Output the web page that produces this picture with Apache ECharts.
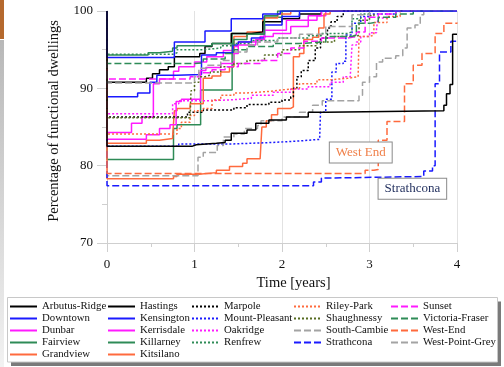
<!DOCTYPE html>
<html><head><meta charset="utf-8">
<script src="https://cdn.jsdelivr.net/npm/echarts@6/dist/echarts.min.js"></script>
<style>html,body{margin:0;padding:0;background:#fff}#c{width:504px;height:367px}</style>
</head><body><div id="c"></div><script>
// ---- data: [time in years, % functional dwellings] step points ----
const arbutusRidge = [[0,100],[0,82.5],[0.97,82.7],[1.02,82.9],[1.25,83.0],[1.35,83.3],[1.42,84.2],[1.6,84.6],[1.7,85.5],[1.85,85.9],[2.05,86.3],[2.3,86.9],[2.5,87.1],[3.85,87.8],[3.88,89.3],[3.92,90.5],[3.95,97.0],[4,97.0]];
const downtown = [[0,100],[0,94.0],[0.77,96.0],[1.12,97.4],[1.42,99.0],[1.78,99.6],[1.98,100],[4,100]];
const dunbar = [[0,100],[0,84.3],[0.28,85.5],[0.4,86.3],[0.53,90.6],[0.6,91.2],[0.76,92.2],[0.82,92.8],[1.0,93.4],[1.14,94.1],[1.33,94.9],[1.45,95.4],[1.5,96.0],[1.75,96.7],[1.9,97.1],[2.1,98.0],[2.3,98.8],[2.4,99.4],[2.5,100],[4,100]];
const fairview = [[0,100],[0,80.8],[0.76,84.8],[0.8,85.3],[1.07,89.8],[1.43,97.1],[1.79,99.2],[2.0,100],[4,100]];
const grandview = [[0,100],[0,82.9],[0.45,83.3],[0.6,83.5],[0.75,83.8],[0.77,87.1],[0.8,87.4],[0.95,88.0],[1.1,91.3],[1.2,91.6],[1.3,92.1],[1.4,92.8],[1.45,96.7],[1.6,97.3],[1.78,99.1],[1.95,99.6],[2.1,100],[4,100]];
const hastings = [[0,100],[0,90.8],[0.45,91.3],[0.52,91.9],[0.6,92.4],[0.7,92.8],[0.77,94.1],[1.06,94.5],[1.12,95.4],[1.2,95.8],[1.42,97.1],[1.65,97.3],[1.78,98.6],[2.0,99.0],[2.2,99.6],[2.45,100],[4,100]];
const kensington = [[0,100],[0,88.9],[0.35,89.4],[0.49,90.8],[0.57,91.7],[0.8,91.8],[1.08,94.3],[1.25,94.6],[1.44,95.6],[1.5,96.0],[1.65,96.5],[1.8,98.2],[2.0,99.3],[2.2,100],[4,100]];
const kerrisdale = [[0,100],[0,83.4],[0.45,84.0],[0.6,84.8],[0.72,85.3],[0.79,88.3],[0.85,88.6],[1.07,92.3],[1.13,92.7],[1.3,93.2],[1.45,94.5],[1.5,95.6],[1.7,96.3],[1.8,97.5],[2.05,98.8],[2.3,99.4],[2.45,100],[4,100]];
const killarney = [[0,100],[0,94.3],[0.47,94.6],[0.6,94.8],[0.75,95.2],[0.8,95.5],[1.2,95.8],[1.45,96.3],[1.6,97.0],[1.8,99.4],[1.95,100],[4,100]];
const kitsilano = [[0,100],[0,78.3],[0.76,78.6],[0.8,78.9],[1.05,79.1],[1.25,79.4],[1.4,79.9],[1.55,80.3],[1.6,80.9],[1.75,81.1],[1.77,85.0],[1.82,85.8],[1.88,86.6],[1.95,87.4],[2.1,87.6],[2.13,94.1],[2.2,94.5],[2.25,96.3],[2.35,96.6],[2.42,97.8],[2.48,99.6],[2.55,100],[4,100]];
const marpole = [[0,100],[0,86.3],[0.92,86.9],[1.1,87.2],[1.45,87.5],[1.6,87.9],[1.85,88.2],[2.0,88.5],[2.1,88.9],[2.13,90.0],[2.17,91.5],[2.22,92.3],[2.3,93.6],[2.38,95.2],[2.44,96.5],[2.52,97.8],[2.56,98.6],[2.63,99.3],[2.7,100],[4,100]];
const mountPleasant = [[0,100],[0,82.5],[0.82,82.8],[1.4,83.0],[1.9,83.2],[2.2,83.4],[2.43,83.5],[2.44,86.9],[2.5,88.6],[2.57,92.1],[2.62,93.2],[2.7,93.5],[2.73,96.9],[2.8,98.4],[2.9,99.3],[3.0,99.6],[3.3,100],[4,100]];
const oakridge = [[0,100],[0,86.7],[0.75,88.0],[0.82,88.4],[1.15,88.5],[1.4,88.7],[1.65,89.1],[1.9,89.5],[2.1,89.9],[2.3,90.2],[2.55,90.8],[2.7,91.5],[2.78,91.7],[2.8,95.6],[2.85,96.0],[2.9,96.7],[3.0,97.2],[3.08,97.8],[3.1,99.1],[3.2,100],[4,100]];
const renfrew = [[0,100],[0,94.4],[0.75,94.6],[0.8,95.0],[1.1,95.2],[1.3,95.5],[1.45,95.8],[1.65,96.2],[1.95,96.5],[2.3,96.8],[2.45,97.1],[2.75,97.3],[2.8,99.0],[2.9,99.6],[3.0,100],[4,100]];
const rileyPark = [[0,100],[0,84.1],[0.8,84.8],[0.85,85.6],[0.95,86.5],[1.0,87.1],[1.1,87.4],[1.2,88.5],[1.3,89.1],[1.45,89.4],[1.6,89.6],[1.85,89.8],[2.0,90.0],[2.2,90.6],[2.4,91.1],[2.55,91.3],[2.75,91.5],[2.87,91.7],[2.88,96.7],[3.0,96.9],[3.05,98.5],[3.2,99.3],[3.35,100],[4,100]];
const shaughnessy = [[0,100],[0,86.2],[0.95,86.3],[0.96,89.7],[1.0,90.8],[1.05,91.5],[1.12,91.7],[1.18,92.1],[1.3,92.8],[1.45,93.2],[1.6,93.6],[1.8,94.3],[2.0,95.0],[2.2,95.5],[2.4,96.0],[2.6,96.7],[2.85,96.9],[2.88,98.8],[3.0,99.4],[3.05,100],[4,100]];
const southCambie = [[0,100],[0,78.7],[1.04,81.1],[1.1,81.7],[1.26,82.6],[1.33,83.7],[1.45,84.1],[1.57,84.8],[1.72,85.2],[1.76,85.8],[2.0,86.3],[2.2,86.9],[2.35,87.8],[2.46,88.4],[2.88,89.1],[2.92,90.8],[3.0,91.5],[3.08,93.4],[3.15,93.9],[3.3,94.2],[3.38,95.2],[3.43,97.8],[3.52,98.2],[3.58,99.5],[3.62,100],[4,100]];
const strathcona = [[0,100],[0,77.4],[2.36,77.9],[2.45,78.4],[2.55,78.6],[3.62,79.3],[3.72,80.0],[3.75,90.6],[3.8,94.7],[3.93,96.1],[4,96.1]];
const sunset = [[0,100],[0,91.2],[0.95,91.5],[1.05,92.0],[1.2,92.4],[1.35,92.8],[1.5,93.2],[1.75,93.6],[1.95,94.5],[2.1,95.2],[2.25,96.1],[2.45,96.5],[2.75,96.7],[2.85,97.3],[2.95,99.2],[3.1,99.6],[3.3,100],[4,100]];
const victoriaFraser = [[0,100],[0,93.2],[1.0,93.3],[1.1,93.8],[1.35,94.5],[1.45,95.0],[1.6,95.4],[1.9,95.8],[2.2,96.0],[2.5,96.7],[2.8,96.9],[2.85,98.4],[3.0,98.6],[3.1,99.2],[3.3,99.6],[3.5,100],[4,100]];
const westEnd = [[0,100],[0,79.0],[2.95,79.4],[3.05,79.5],[3.1,83.3],[3.2,85.7],[3.4,90.6],[3.5,93.0],[3.6,94.5],[3.75,97.1],[3.85,98.4],[4,98.5]];
const westPointGrey = [[0,100],[0,90.7],[1.0,91.5],[1.05,92.6],[1.15,93.0],[1.3,93.6],[1.45,94.7],[1.6,95.6],[1.72,96.0],[1.95,96.5],[2.2,97.0],[2.5,98.0],[2.8,99.5],[3.0,100],[4,100]];

const districts = ['Arbutus-Ridge','Downtown','Dunbar','Fairview','Grandview',
  'Hastings','Kensington','Kerrisdale','Killarney','Kitsilano',
  'Marpole','Mount-Pleasant','Oakridge','Renfrew',
  'Riley-Park','Shaughnessy','South-Cambie','Strathcona',
  'Sunset','Victoria-Fraser','West-End','West-Point-Grey'];
const seriesValues = [arbutusRidge,downtown,dunbar,fairview,grandview,
  hastings,kensington,kerrisdale,killarney,kitsilano,
  marpole,mountPleasant,oakridge,renfrew,
  rileyPark,shaughnessy,southCambie,strathcona,
  sunset,victoriaFraser,westEnd,westPointGrey];
const xTicks = [0,1,2,3,4];
const yTicks = [70,80,90,100];
const legendColumns = [districts.slice(0,5),districts.slice(5,10),districts.slice(10,14),districts.slice(14,18),districts.slice(18,22)];
const annotations = [
  {text:'West End', at:[2.9,81.7]},
  {text:'Strathcona', at:[3.49,77.0]}
];

// ---- styles ----
const BLACK='#000000', BLUE='#1a1aff', MAG='#ff1aff', GREEN='#2e8b57', ORANGE='#ff6a3d', OLIVE='#556b1f', GRAY='#a3a3a3';
const DOT=[2,2], DASH=[7,3];
const lineColors = [BLACK,BLUE,MAG,GREEN,ORANGE, BLACK,BLUE,MAG,GREEN,ORANGE, BLACK,BLUE,MAG,GREEN, ORANGE,OLIVE,GRAY,BLUE, MAG,GREEN,ORANGE,GRAY];
const lineTypes = ['solid','solid','solid','solid','solid','solid','solid','solid','solid','solid',DOT,DOT,DOT,DOT,DOT,DOT,DASH,DASH,DASH,DASH,DASH,DASH];
const topZ = {'Arbutus-Ridge':4,'Downtown':3};
const legendLeft = [9,107,191,293,390];
const serif = 'Liberation Serif, Times New Roman, serif';

const chart = echarts.init(document.getElementById('c'), null, {renderer:'canvas'});
const option = {
  animation:false,
  backgroundColor:'#ffffff',
  grid:{left:107, right:47, top:11, bottom:124},
  xAxis:{type:'value', min:xTicks[0], max:xTicks[xTicks.length-1], interval:1,
    name:'Time [years]', nameLocation:'middle', nameGap:31,
    nameTextStyle:{fontFamily:serif, fontSize:14.5, color:'#111', padding:[0,0,0,23]},
    axisLine:{show:true, lineStyle:{color:'#cfcfcf'}},
    axisTick:{show:true, length:9, lineStyle:{color:'#cfcfcf'}},
    minorTick:{show:true, splitNumber:2, length:4, lineStyle:{color:'#cfcfcf'}},
    splitLine:{show:true, lineStyle:{color:'#e2e2e2'}},
    axisLabel:{fontFamily:serif, fontSize:13, color:'#111', margin:15}},
  yAxis:{type:'value', min:yTicks[0], max:yTicks[yTicks.length-1], interval:10,
    name:'Percentage of functional dwellings', nameLocation:'middle', nameGap:45,
    nameTextStyle:{fontFamily:serif, fontSize:14.5, color:'#111', padding:[0,0,0,12]},
    axisLine:{show:true, lineStyle:{color:'#cfcfcf'}},
    axisTick:{show:true, length:10, lineStyle:{color:'#cfcfcf'}},
    minorTick:{show:true, splitNumber:2, length:5, lineStyle:{color:'#cfcfcf'}},
    splitLine:{show:false},
    axisLabel:{fontFamily:serif, fontSize:13, color:'#111', margin:14}},
  legend: legendColumns.map((col,i)=>({
    type:'plain', orient:'vertical', left:legendLeft[i], top:300.5, data:col,
    padding:0, itemWidth:27, itemHeight:12, itemGap:0, selectedMode:false,
    itemStyle:{opacity:0, borderWidth:0},
    textStyle:{fontFamily:serif, fontSize:10.8, color:'#111', lineHeight:12}
  })),
  graphic:[
    {type:'rect', id:'edgeTop', shape:{x:0,y:0,width:4,height:39}, style:{fill:'#b5692e'}, silent:true},
    {type:'rect', id:'edgeGray', shape:{x:0,y:40,width:4,height:327}, silent:true,
      style:{fill:new echarts.graphic.LinearGradient(0,0,0,1,[{offset:0,color:'#b8b8b8'},{offset:1,color:'#f2f2f2'}])}},
    {type:'rect', id:'legShadow', shape:{x:11,y:301.5,width:490,height:64.5}, style:{fill:'#7a7a7a'}, z:0, silent:true},
    {type:'rect', id:'legBox', shape:{x:7.5,y:297.5,width:490,height:64.5}, style:{fill:'#ffffff', stroke:'#c8c8c8', lineWidth:1}, z:1, silent:true}
  ],
  series: districts.map((name,i)=>({
    name, type:'line', step:'end', data:seriesValues[i],
    symbol:'none', showSymbol:false, z: topZ[name] || 2,
    lineStyle:{color:lineColors[i], width:1.5, type:lineTypes[i]},
    itemStyle:{color:lineColors[i]}
  }))
};
chart.setOption(option);

const annoColors = ['#f0804a','#1f2d5c'];
chart.setOption({graphic: annotations.map((a,i)=>{
  const p = chart.convertToPixel({gridIndex:0}, a.at);
  return {type:'text', id:'anno'+i, x:p[0], y:p[1], z:10, silent:true,
    style:{text:a.text, fill:annoColors[i], font:'13px '+serif, align:'center', verticalAlign:'middle',
      backgroundColor:'#ffffff', borderColor:'#8a8a8a', borderWidth:1, padding:[4,6,3,6]}};
})});
</script></body></html>
